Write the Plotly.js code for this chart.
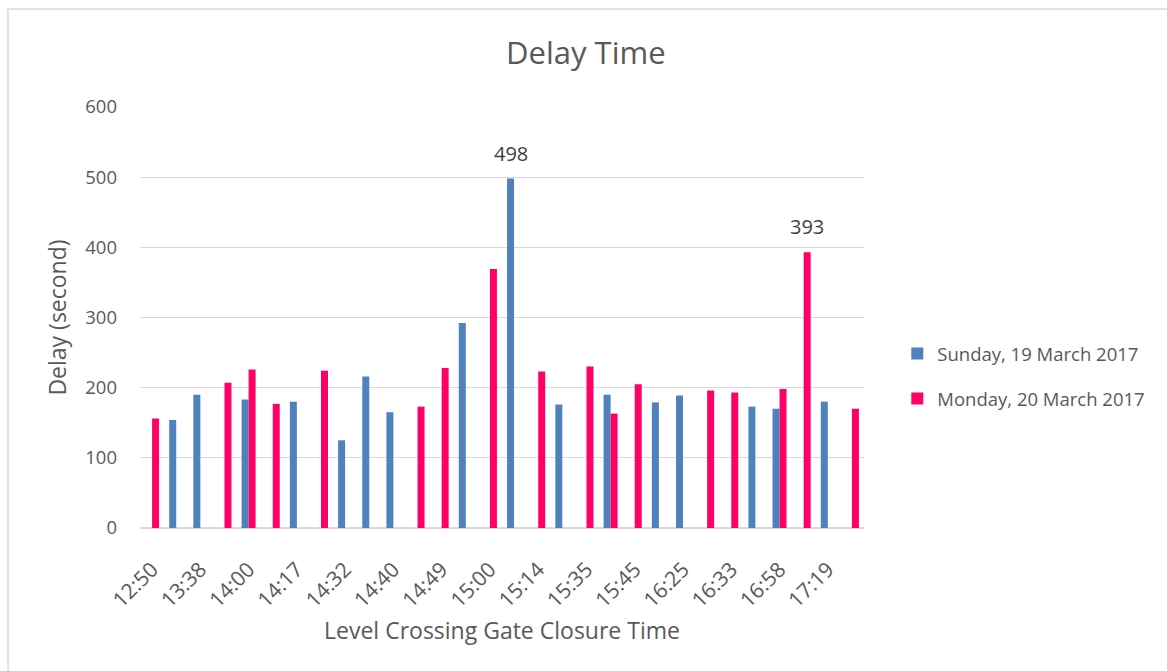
<!DOCTYPE html>
<html>
<head>
<meta charset="utf-8">
<script src="https://cdn.plot.ly/plotly-3.0.1.min.js"></script>
<style>
html, body { margin: 0; padding: 0; background: #ffffff; }
#chart { width: 1167px; height: 671px; }
</style>
</head>
<body>
<div id="chart"></div>
<script>
// Category slots (30 closures, every second one labelled on the axis)
var slotIndex = [0,1,2,3,4,5,6,7,8,9,10,11,12,13,14,15,16,17,18,19,20,21,22,23,24,25,26,27,28,29];
var tickSlots = [0,2,4,6,8,10,12,14,16,18,20,22,24,26,28];
var tickLabels = ["12:50","13:38","14:00","14:17","14:32","14:40","14:49","15:00","15:14","15:35","15:45","16:25","16:33","16:58","17:19"];

var sundayName = "Sunday, 19 March 2017";
var mondayName = "Monday, 20 March 2017";

var sundayDelay = [null,154,190,null,183,null,180,null,125,216,165,null,null,292,null,498,null,176,null,190,null,179,189,null,null,173,170,null,180,null];
var mondayDelay = [156,null,null,207,226,177,null,224,null,null,null,173,228,null,369,null,223,null,230,163,205,null,null,196,193,null,198,393,null,170];

// slots whose value is printed above the bar
var sundayLabelled = [15];
var mondayLabelled = [27];

var FONT = "Open Sans, Noto Sans, sans-serif";
var GREY = "#595959";

var traces = [
  {
    type: "bar", name: sundayName, legendgroup: "sun", x: slotIndex, y: sundayDelay,
    marker: { color: "#4f81bd" }, hoverinfo: "y"
  },
  {
    type: "bar", name: mondayName, legendgroup: "mon", x: slotIndex, y: mondayDelay,
    marker: { color: "#ff0066" }, hoverinfo: "y"
  }
];

var annotations = [];
function addLabels(slots, values, shift) {
  slots.forEach(function (i) {
    annotations.push({
      x: slotIndex[i], y: values[i], xref: "x", yref: "y",
      text: String(values[i]), showarrow: false,
      xanchor: "center", yanchor: "bottom", xshift: shift, yshift: 10,
      font: { family: FONT, size: 20, color: "#404040" }
    });
  });
}
addLabels(sundayLabelled, sundayDelay, -3.5);
addLabels(mondayLabelled, mondayDelay, 3.5);

var layout = {
  width: 1167, height: 671,
  margin: { l: 140, r: 303, t: 107, b: 143 },
  paper_bgcolor: "#ffffff", plot_bgcolor: "#ffffff",
  font: { family: FONT, color: GREY, size: 18 },
  title: { text: "Delay Time", font: { family: FONT, size: 31, color: GREY }, x: 0.502, xanchor: "center", y: 0.921, yanchor: "middle" },
  barmode: "group", bargap: 0.42, bargroupgap: 0,
  showlegend: true,
  legend: { x: 1.046, xanchor: "left", y: 0.36, yanchor: "middle", font: { family: FONT, size: 18.5, color: GREY }, itemwidth: 30, tracegroupgap: 18, bgcolor: "rgba(0,0,0,0)" },
  xaxis: {
    range: [-0.5, 29.5], tickmode: "array", tickvals: tickSlots, ticktext: tickLabels,
    tickangle: -45, showgrid: false, zeroline: false, showline: false, ticks: "",
    ticklabelstandoff: 24,
    tickfont: { family: FONT, size: 21, color: GREY },
    title: { text: "Level Crossing Gate Closure Time", font: { family: FONT, size: 23, color: GREY }, standoff: 10 }
  },
  yaxis: {
    range: [0, 600], dtick: 100, showgrid: true, gridcolor: "#d9d9d9", gridwidth: 1.3,
    zeroline: true, zerolinecolor: "#d9d9d9", zerolinewidth: 1.3, showline: false, ticks: "",
    ticklabelstandoff: 22,
    tickfont: { family: FONT, size: 18.5, color: GREY },
    title: { text: "Delay (second)", font: { family: FONT, size: 23, color: GREY }, standoff: 12 }
  },
  annotations: annotations,
  shapes: [
    { type: "rect", xref: "paper", yref: "paper", x0: -0.1823, x1: 1.44, y0: -0.37, y1: 1.233,
      line: { color: "#d9d9d9", width: 1.5 }, fillcolor: "rgba(0,0,0,0)", layer: "below" }
  ]
};

Plotly.newPlot("chart", traces, layout, { displayModeBar: false, staticPlot: true });
</script>
</body>
</html>
